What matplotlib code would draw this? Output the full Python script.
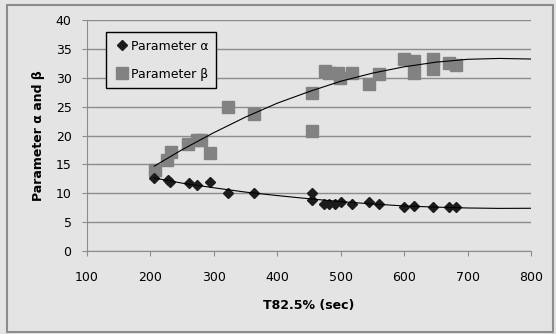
import numpy as np
import matplotlib
matplotlib.use('Agg')
import matplotlib.pyplot as plt
from matplotlib.patches import Rectangle

# values
t_alpha = [206, 227, 231, 261, 274, 294, 323, 363, 455, 455, 473, 481, 491, 500,
           518, 545, 561, 600, 615, 645, 671, 681]
alpha = [12.7, 12.3, 12.0, 11.7, 11.5, 11.9, 10.0, 10.0, 10.1, 8.9, 8.2, 8.2, 8.2, 8.4,
         8.2, 8.4, 8.1, 7.7, 7.8, 7.7, 7.7, 7.7]

t_beta = [207, 226, 232, 260, 274, 279, 294, 323, 363, 455, 455, 475, 482, 495, 499,
          518, 545, 561, 600, 615, 615, 645, 645, 671, 682]
beta = [14.1, 15.8, 17.1, 18.6, 19.3, 19.2, 16.9, 24.9, 23.8, 27.4, 20.8, 31.2, 30.8, 30.8, 29.9,
        30.8, 28.9, 30.7, 33.2, 32.9, 30.9, 33.2, 31.5, 32.6, 32.2]

# polynomial trendlines
trend_t = [206, 250, 300, 350, 400, 450, 500, 550, 600, 650, 700, 750, 800]
trend_alpha = [12.65, 11.75, 10.95, 10.2, 9.6, 9.05, 8.55, 8.15, 7.8, 7.6, 7.45, 7.38, 7.4]
trend_beta = [14.7, 17.55, 20.5, 23.2, 25.6, 27.6, 29.4, 30.8, 31.9, 32.7, 33.2, 33.35, 33.25]

xticks = [100, 200, 300, 400, 500, 600, 700, 800]
yticks = [0, 5, 10, 15, 20, 25, 30, 35, 40]

bg = '#e4e4e4'
plt.rcParams['font.family'] = 'DejaVu Sans'
plt.rcParams['font.size'] = 9

fig = plt.figure(figsize=(5.56, 3.34), dpi=100)
fig.set_facecolor(bg)
fig.patches.append(Rectangle((0.012, 0.006), 0.982, 0.98, transform=fig.transFigure,
                             fill=False, edgecolor='#8c8c8c', linewidth=1.5))
ax = fig.add_axes([0.1565, 0.2485, 0.7985, 0.6915])
ax.set_facecolor(bg)

ax.plot(trend_t, trend_beta, color='black', linewidth=0.8, zorder=4)
ax.plot(trend_t, trend_alpha, color='black', linewidth=0.8, zorder=4)

ax.plot(t_alpha, alpha, 'D', color='#1c1c1c', markersize=5.6, linestyle='none',
        label='Parameter α', zorder=3)
ax.plot(t_beta, beta, 's', color='#828282', markersize=8, linestyle='none',
        label='Parameter β', zorder=2)

ax.set_xlim(100, 800)
ax.set_ylim(0, 40)
ax.set_xticks(xticks)
ax.set_yticks(yticks)
ax.grid(True, axis='y', color='#8c8c8c', linewidth=1)
ax.set_axisbelow(True)
for s in ['top', 'right']:
    ax.spines[s].set_visible(False)
for s in ['left', 'bottom']:
    ax.spines[s].set_color('#8c8c8c')
ax.tick_params(direction='out', length=3.3, color='#8c8c8c', labelsize=9)
ax.tick_params(axis='x', pad=11)
ax.tick_params(axis='y', pad=7.8)

ax.set_xlabel('T82.5% (sec)', fontweight='bold', fontsize=9, labelpad=11)
ax.set_ylabel('Parameter α and β', fontweight='bold', fontsize=9, labelpad=8)

leg = ax.legend(loc='upper left', bbox_to_anchor=(0.043, 0.948), borderaxespad=0,
                frameon=True, fancybox=False, framealpha=1, facecolor=bg,
                edgecolor='black', borderpad=0.6, handlelength=1.3,
                handletextpad=0.1, labelspacing=1.2, fontsize=9)
leg.get_frame().set_linewidth(1)

fig.savefig('out.png', dpi=100, facecolor=bg)
